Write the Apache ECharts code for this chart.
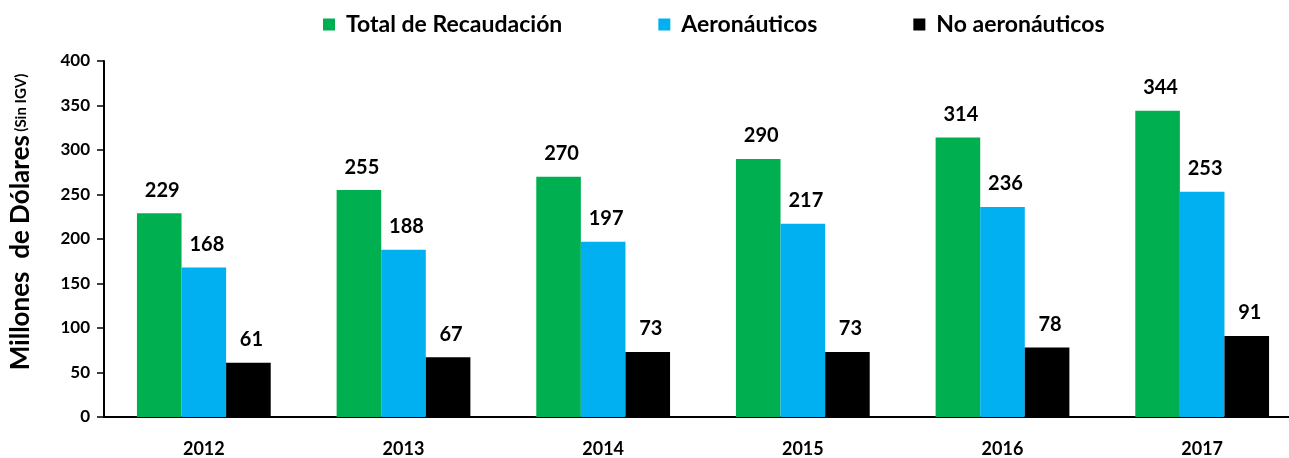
<!DOCTYPE html>
<html>
<head>
<meta charset="utf-8">
<script src="https://cdn.jsdelivr.net/npm/echarts@6/dist/echarts.min.js"></script>
<style>
  html, body { margin: 0; padding: 0; background: #fff; }
  #chart { width: 1289px; height: 458px; }
</style>
</head>
<body>
<div id="chart"></div>
<script>
const years = ['2012', '2013', '2014', '2015', '2016', '2017'];
const total = [229, 255, 270, 290, 314, 344];
const aero = [168, 188, 197, 217, 236, 253];
const noAero = [61, 67, 73, 73, 78, 91];

const font = 'Lato';

var myChart = echarts.init(document.getElementById('chart'));

function barSeries(name, data, color) {
  return {
    name: name,
    type: 'bar',
    data: data,
    barGap: '0%',
    barCategoryGap: '33%',
    itemStyle: { color: color },
    label: {
      show: true,
      position: 'top',
      distance: 13,
      offset: [3, 0],
      color: '#000',
      fontFamily: font,
      fontWeight: 'bold',
      fontSize: 20
    }
  };
}

var option = {
  backgroundColor: '#fff',
  animation: false,
  legend: {
    top: 8,
    left: 318,
    itemWidth: 12,
    itemHeight: 12,
    itemGap: 96,
    icon: 'rect',
    textStyle: {
      fontFamily: font,
      fontWeight: 'bold',
      fontSize: 23,
      color: '#000',
      padding: [0, 0, 0, 6]
    },
    data: ['Total de Recaudación', 'Aeronáuticos', 'No aeronáuticos']
  },
  grid: {
    left: 104,
    top: 61,
    bottom: 41,
    width: 1198,
    outerBoundsMode: 'none'
  },
  xAxis: {
    type: 'category',
    data: years,
    axisLine: { lineStyle: { color: '#000', width: 2 } },
    axisTick: { show: false },
    axisLabel: {
      margin: 23,
      color: '#000',
      fontFamily: font,
      fontWeight: 'bold',
      fontSize: 18
    }
  },
  yAxis: {
    type: 'value',
    min: 0,
    max: 400,
    interval: 50,
    name: '{a|Millones  de Dólares} {b|(Sin IGV)}',
    nameLocation: 'middle',
    nameGap: 70,
    nameRotate: 90,
    nameTextStyle: {
      padding: [0, 0, 0, 34],
      rich: {
        a: { fontFamily: font, fontWeight: 'bold', fontSize: 26, color: '#000' },
        b: { fontFamily: font, fontWeight: 'bold', fontSize: 15, color: '#000' }
      }
    },
    axisLine: { show: true, lineStyle: { color: '#000', width: 2 } },
    axisTick: { show: true, inside: false, length: 7, lineStyle: { color: '#000', width: 1.5 } },
    splitLine: { show: false },
    axisLabel: {
      margin: 14,
      color: '#000',
      fontFamily: font,
      fontWeight: 'bold',
      fontSize: 17
    }
  },
  series: [
    barSeries('Total de Recaudación', total, '#00B050'),
    barSeries('Aeronáuticos', aero, '#00B0F0'),
    barSeries('No aeronáuticos', noAero, '#000000')
  ]
};

option && myChart.setOption(option);
</script>
</body>
</html>
